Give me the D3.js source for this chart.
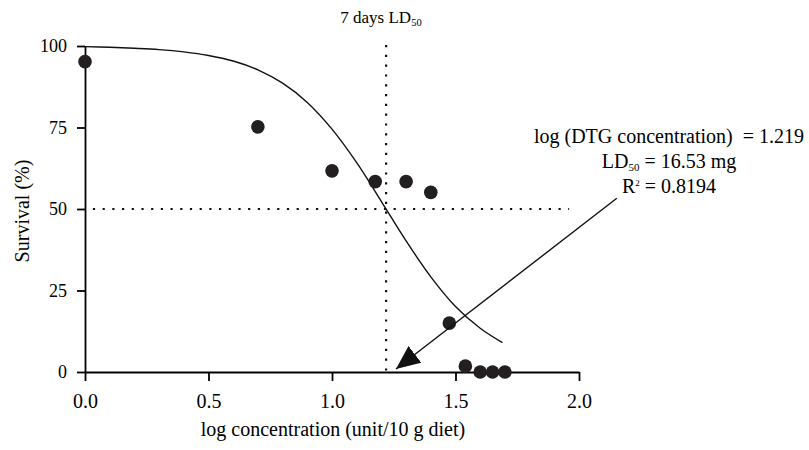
<!DOCTYPE html>
<html>
<head>
<meta charset="utf-8">
<script src="https://cdn.jsdelivr.net/npm/d3@7"></script>
<style>
  body { margin: 0; background: #fff; }
  svg text { font-family: "Liberation Serif", "Times New Roman", serif; fill: #000; }
</style>
</head>
<body>
<div id="chart"></div>
<script>

const width = 809
const height = 450

// observed points
const logDose = [0, 0.7, 1.0, 1.175, 1.3, 1.4, 1.475, 1.54, 1.6, 1.65, 1.7]
const survival = [95.2, 75.2, 61.7, 58.4, 58.4, 55.1, 15.0, 1.8, 0, 0, 0]

// fitted curve
const fitX = [0, 0.1, 0.2, 0.3, 0.4, 0.5, 0.6, 0.7, 0.8, 0.9, 1.0, 1.1, 1.2, 1.3, 1.4, 1.5, 1.6, 1.69]
const fitY = [99.8, 99.6, 99.3, 98.9, 98.2, 97.1, 95.4, 92.7, 88.6, 82.7, 74.5, 64.2, 52.3, 40.2, 29.2, 20.1, 13.4, 9.0]

const xTicks = [0, 0.5, 1.0, 1.5, 2.0]
const yTicks = [0, 25, 50, 75, 100]

const ld50 = 1.219
const arrowFrom = [2.153, 53.3]
const arrowTo = [1.259, 0.9]

const serif = '"Liberation Serif", "Times New Roman", serif'

const svg = d3.select('#chart')
  .append('svg')
  .attr('width', width)
  .attr('height', height)

const x = d3.scaleLinear().domain([0, 2]).range([85, 579])
const y = d3.scaleLinear().domain([0, 100]).range([372, 46])

const xAxis = svg.append('g')
  .attr('transform', `translate(0, ${y(0)})`)
  .call(d3.axisBottom(x).tickValues(xTicks).tickFormat(d3.format('.1f')).tickSize(9).tickSizeOuter(0).tickPadding(13))
  .attr('font-family', serif)
  .attr('font-size', 20)

const yAxis = svg.append('g')
  .attr('transform', `translate(${x(0)}, 0)`)
  .call(d3.axisLeft(y).tickValues(yTicks).tickSize(8).tickSizeOuter(0).tickPadding(10))
  .attr('font-family', serif)
  .attr('font-size', 18)

svg.selectAll('.domain, .tick line').attr('stroke', '#000').attr('stroke-width', 1.8)
svg.selectAll('.tick text').attr('fill', '#000')

// dotted guide lines
svg.append('line')
  .attr('x1', x(0.032)).attr('x2', x(1.96))
  .attr('y1', y(50)).attr('y2', y(50))
  .attr('stroke', '#111').attr('stroke-width', 2.2)
  .attr('stroke-dasharray', '2.2 7.5')

svg.append('line')
  .attr('x1', x(ld50)).attr('x2', x(ld50))
  .attr('y1', y(100) - 1).attr('y2', y(0))
  .attr('stroke', '#111').attr('stroke-width', 2.2)
  .attr('stroke-dasharray', '2.2 7.6')

// fitted curve
const line = d3.line()
  .x((d, i) => x(fitX[i]))
  .y(d => y(d))
  .curve(d3.curveCatmullRom)

svg.append('path')
  .datum(fitY)
  .attr('d', line)
  .attr('fill', 'none')
  .attr('stroke', '#111')
  .attr('stroke-width', 1.4)

// points
svg.selectAll('.pt')
  .data(survival)
  .join('circle')
  .attr('class', 'pt')
  .attr('cx', (d, i) => x(logDose[i]))
  .attr('cy', d => y(d))
  .attr('r', 6.8)
  .attr('fill', '#231f20')

// arrow
svg.append('defs').append('marker')
  .attr('id', 'head')
  .attr('markerUnits', 'userSpaceOnUse')
  .attr('markerWidth', 26).attr('markerHeight', 22)
  .attr('refX', 24).attr('refY', 10.5)
  .attr('orient', 'auto')
  .append('path')
  .attr('d', 'M0,0 L24,10.5 L0,21 Z')
  .attr('fill', '#111')

svg.append('line')
  .attr('x1', x(arrowFrom[0])).attr('y1', y(arrowFrom[1]))
  .attr('x2', x(arrowTo[0])).attr('y2', y(arrowTo[1]))
  .attr('stroke', '#111').attr('stroke-width', 1.4)
  .attr('marker-end', 'url(#head)')

// title
const title = svg.append('text')
  .attr('x', 381).attr('y', 23)
  .attr('text-anchor', 'middle')
  .style('font-size', '17px')
title.append('tspan').text('7 days LD')
title.append('tspan').attr('dy', 2.5).style('font-size', '10.5px').text('50')

// annotation
const note = svg.append('g').attr('text-anchor', 'middle')
note.append('text')
  .attr('x', 669).attr('y', 142.5)
  .style('font-size', '20px')
  .style('white-space', 'pre')
  .text('log (DTG concentration)  = 1.219')
const l2 = note.append('text').attr('x', 669).attr('y', 167.5).style('font-size', '20px')
l2.append('tspan').text('LD')
l2.append('tspan').attr('dy', 3).style('font-size', '11px').text('50')
l2.append('tspan').attr('dy', -3).text(' = 16.53 mg')
const l3 = note.append('text').attr('x', 669).attr('y', 192.5).style('font-size', '20px')
l3.append('tspan').text('R')
l3.append('tspan').attr('dy', -7).style('font-size', '9px').text('2')
l3.append('tspan').attr('dy', 7).text(' = 0.8194')

// axis titles
svg.append('text')
  .attr('x', (x(0) + x(2)) / 2 + 1).attr('y', 436)
  .attr('text-anchor', 'middle')
  .style('font-size', '20px')
  .text('log concentration (unit/10 g diet)')

svg.append('text')
  .attr('transform', `translate(29, ${y(50) + 2}) rotate(-90)`)
  .attr('text-anchor', 'middle')
  .style('font-size', '20px')
  .text('Survival (%)')

</script>
</body>
</html>
